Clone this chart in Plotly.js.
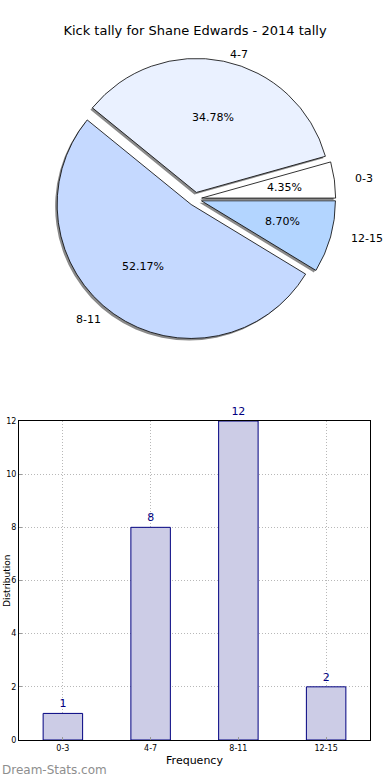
<!DOCTYPE html>
<html>
<head>
<meta charset="utf-8">
<script src="https://cdn.plot.ly/plotly-3.0.1.min.js"></script>
<style>html,body{margin:0;padding:0;background:#fff;}#chart{width:390px;height:780px;}</style>
</head>
<body>
<div id="chart"></div>
<script>
const categories = ['0-3', '4-7', '8-11', '12-15'];
const counts = [1, 8, 12, 2];
const pieColors = ['#ffffff', '#eaf1ff', '#c5d9ff', '#b3d5ff'];
const pulls = [0.05, 0.05, 0.05, 0.05];
const titleText = 'Kick tally for Shane Edwards - 2014 tally';
const yTickVals = [0, 2, 4, 6, 8, 10, 12];

const W = 390, H = 780;
const px = v => v / W;
const py = v => 1 - v / H;
const font = 'DejaVu Sans, sans-serif';

// slices run counterclockwise from 3 o'clock; drawn clockwise in reverse order
const rev = a => a.slice().reverse();
const pieCats = rev(categories), pieVals = rev(counts), pieCols = rev(pieColors), piePulls = rev(pulls);

// pie geometry in pixels
const cx = 195, cy = 199, radiusPx = 134;
const maxPull = Math.max(...pulls);
const half = radiusPx * (1 + maxPull);
const pieDomain = {x: [px(cx - half), px(cx + half)], y: [py(cy + half), py(cy - half)]};
const shadowDomain = {x: [px(cx - half - 2), px(cx + half - 2)], y: [py(cy + half + 2), py(cy - half + 2)]};
// overlay axes for the slice texts (reference pie is slightly wider than tall)
const ovR = 1.4, unitX = 139, unitY = 128;
const ovDomain = {x: [px(cx - ovR * unitX), px(cx + ovR * unitX)], y: [py(cy + ovR * unitY), py(cy - ovR * unitY)]};

// label / percentage placement in pie-radius units (matplotlib style: pct at 0.6, label at 1.1)
const total = counts.reduce((a, b) => a + b, 0);
let acc = 0;
const mids = counts.map(v => { const m = (acc + v / 2) / total * 2 * Math.PI; acc += v; return m; });
const pctText = counts.map(v => (v / total * 100).toFixed(2) + '%');

const textAnnotations = [];
categories.forEach((c, i) => {
  const m = mids[i], d = pulls[i];
  textAnnotations.push({
    xref: 'x2', yref: 'y2', x: (0.6 + d) * Math.cos(m), y: (0.6 + d) * Math.sin(m),
    text: pctText[i], showarrow: false, xanchor: 'center', yanchor: 'middle',
    font: {family: font, size: 11, color: '#000'}
  });
  const lx = (1.1 + d) * Math.cos(m), ly = (1.1 + d) * Math.sin(m);
  textAnnotations.push({
    xref: 'x2', yref: 'y2', x: lx, y: ly, text: c, showarrow: false,
    xanchor: lx >= 0 ? 'left' : 'right', yanchor: 'middle',
    font: {family: font, size: 11, color: '#000'}
  });
});

const common = {type: 'pie', labels: pieCats, values: pieVals, sort: false,
  direction: 'clockwise', rotation: 90, pull: piePulls, showlegend: false,
  textinfo: 'none', hoverinfo: 'skip'};

const shadow = Object.assign({}, common, {
  marker: {colors: pieCats.map(() => '#8a8a8a'), line: {width: 0}},
  domain: shadowDomain
});
const pie = Object.assign({}, common, {
  marker: {colors: pieCols, line: {color: '#000', width: 0.8}},
  domain: pieDomain
});
// invisible anchor trace so the pie-overlay axes exist
const anchorTrace = {
  type: 'scatter', mode: 'markers', x: [-ovR, ovR], y: [-ovR, ovR],
  marker: {opacity: 0}, xaxis: 'x2', yaxis: 'y2', showlegend: false, hoverinfo: 'skip'
};
const bars = {
  type: 'bar', x: categories, y: counts, width: 0.45,
  marker: {color: '#ccccE6', line: {color: '#000080', width: 1}},
  text: counts.map(String), textposition: 'outside', cliponaxis: false,
  textfont: {family: font, size: 11, color: '#000080'},
  xaxis: 'x', yaxis: 'y', showlegend: false
};

const gridStyle = {showgrid: true, gridcolor: '#b8b8b8', griddash: '1px,2px', gridwidth: 1};
const hiddenAxis = {showgrid: false, zeroline: false, showline: false, showticklabels: false, ticks: '', fixedrange: true};

const layout = {
  width: W, height: H,
  margin: {l: 0, r: 0, t: 0, b: 0},
  paper_bgcolor: '#fff', plot_bgcolor: 'rgba(0,0,0,0)',
  font: {family: font, color: '#000'},
  title: {text: titleText, font: {family: font, size: 13, color: '#000'},
          x: 0.5, xanchor: 'center', y: py(30), yanchor: 'middle'},
  xaxis: Object.assign({
    domain: [px(19), px(370)], anchor: 'y', range: [-0.5, 3.5],
    showline: true, mirror: true, linecolor: '#000', linewidth: 1,
    ticks: 'inside', ticklen: 3, tickcolor: '#999',
    tickfont: {family: font, size: 8, color: '#000'},
    title: {text: 'Frequency', font: {family: font, size: 11, color: '#000'}, standoff: 4},
    zeroline: false, fixedrange: true
  }, gridStyle),
  yaxis: Object.assign({
    domain: [py(740), py(421)], anchor: 'x', range: [0, 12],
    tickvals: yTickVals, ticktext: yTickVals.map(String),
    showline: true, mirror: true, linecolor: '#000', linewidth: 1,
    ticks: 'inside', ticklen: 3, tickcolor: '#999',
    tickfont: {family: font, size: 8, color: '#000'},
    zeroline: false, fixedrange: true
  }, gridStyle),
  xaxis2: Object.assign({domain: ovDomain.x, anchor: 'y2', range: [-ovR, ovR]}, hiddenAxis),
  yaxis2: Object.assign({domain: ovDomain.y, anchor: 'x2', range: [-ovR, ovR]}, hiddenAxis),
  annotations: textAnnotations.concat([
    {
      text: 'Distribution', xref: 'paper', yref: 'paper',
      x: 0, y: py(581), xanchor: 'left', yanchor: 'middle', textangle: -90, showarrow: false,
      font: {family: font, size: 9, color: '#000'}
    },
    {
      text: 'Dream-Stats.com', xref: 'paper', yref: 'paper',
      x: 0, y: py(770), xanchor: 'left', yanchor: 'middle', showarrow: false,
      font: {family: font, size: 12, color: '#8e8e8e'}
    }
  ])
};

Plotly.newPlot('chart', [anchorTrace, shadow, pie, bars], layout, {displayModeBar: false, staticPlot: true});
</script>
</body>
</html>
